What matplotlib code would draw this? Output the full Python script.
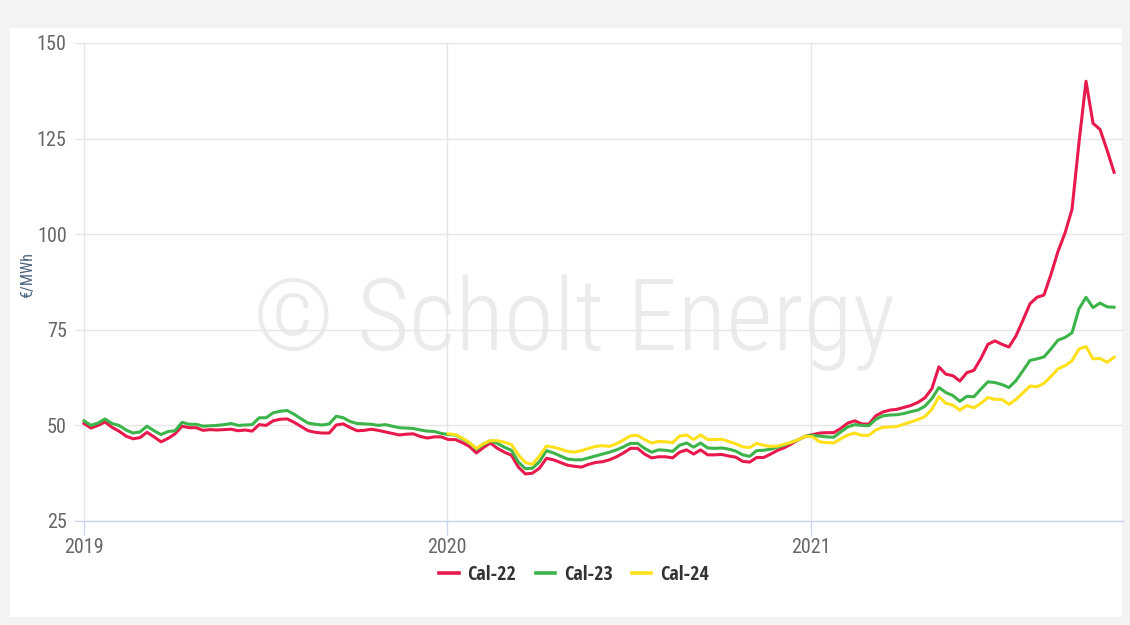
import matplotlib
matplotlib.use("Agg")
import matplotlib.pyplot as plt
from matplotlib import font_manager
from matplotlib.patches import Rectangle
from matplotlib.lines import Line2D
import pandas as pd

# ---- data (€/MWh, roughly weekly) ----
start_date = "2019-01-01"
end_date = "2021-11-02"

cal22 = [
    50.5, 49.3, 50.0, 50.9, 49.5, 48.5, 47.2, 46.5, 46.8, 48.2,
    47.0, 45.7, 46.6, 47.8, 49.8, 49.4, 49.4, 48.7, 48.9, 48.8,
    48.9, 49.0, 48.6, 48.8, 48.5, 50.2, 50.0, 51.2, 51.6, 51.7,
    50.8, 49.7, 48.6, 48.2, 48.0, 48.0, 50.1, 50.4, 49.4, 48.6,
    48.7, 49.0, 48.7, 48.3, 47.9, 47.5, 47.7, 47.8, 47.1, 46.7,
    47.0, 47.0, 46.3, 46.3, 45.5, 44.5, 42.8, 44.2, 45.4, 44.0,
    43.0, 42.2, 39.1, 37.3, 37.5, 38.8, 41.4, 41.0, 40.3, 39.6,
    39.3, 39.1, 39.8, 40.3, 40.5, 41.0, 41.8, 42.8, 44.0, 44.0,
    42.5, 41.5, 41.8, 41.8, 41.5, 43.0, 43.6, 42.5, 43.6, 42.3,
    42.3, 42.4, 42.0, 41.7, 40.6, 40.4, 41.6, 41.6, 42.5, 43.5,
    44.2, 45.2, 46.3, 47.2, 47.6, 48.0, 48.1, 48.1, 49.2, 50.6,
    51.2, 50.4, 50.3, 52.5, 53.5, 54.0, 54.2, 54.7, 55.2, 56.0,
    57.2, 59.6, 65.3, 63.4, 63.0, 61.6, 63.8, 64.4, 67.5, 71.2,
    72.1, 71.2, 70.5, 73.4, 77.5, 81.8, 83.5, 84.1, 89.5, 95.5,
    100.3, 106.5, 124.0, 140.0, 129.0, 127.4, 122.0, 116.2,
]

cal23 = [
    51.2, 50.0, 50.6, 51.7, 50.5, 50.0, 48.8, 48.0, 48.3, 49.8,
    48.6, 47.6, 48.4, 48.6, 50.8, 50.3, 50.3, 49.8, 49.9, 50.0,
    50.2, 50.5, 50.0, 50.1, 50.2, 52.0, 52.0, 53.3, 53.7, 53.9,
    52.9, 51.7, 50.6, 50.3, 50.1, 50.4, 52.4, 52.0, 51.0, 50.5,
    50.4, 50.3, 50.0, 50.2, 49.8, 49.4, 49.3, 49.2, 48.8, 48.5,
    48.4, 47.9, 47.6, 47.5, 46.5, 45.4, 43.8, 45.0, 46.0, 45.3,
    44.3, 43.5, 40.4, 38.7, 38.8, 40.5, 43.4, 42.8, 42.0, 41.2,
    41.0, 41.0, 41.5, 42.0, 42.5, 43.0, 43.6, 44.4, 45.3, 45.3,
    44.0, 43.0, 43.6, 43.5, 43.2, 44.8, 45.4, 44.3, 45.4, 44.1,
    44.0, 44.1, 43.8, 43.3, 42.3, 41.9, 43.4, 43.5, 43.8, 44.3,
    44.9, 45.6, 46.3, 47.2, 47.4, 47.2, 47.0, 46.9, 48.3, 49.6,
    50.2, 50.0, 49.9, 51.6, 52.5, 52.7, 52.8, 53.1, 53.6, 54.0,
    55.0, 57.0, 59.9, 58.6, 57.8, 56.3, 57.6, 57.5, 59.5, 61.4,
    61.2, 60.7, 59.9, 61.7, 64.3, 67.0, 67.4, 67.9, 70.0, 72.3,
    73.0, 74.2, 80.5, 83.5, 80.8, 82.0, 81.0, 80.9,
]

cal24 = [
    47.8, 47.6, 46.7, 45.5, 44.0, 45.2, 46.0, 46.0, 45.6, 45.0,
    42.3, 40.3, 39.8, 42.0, 44.6, 44.3, 43.8, 43.2, 43.0, 43.4,
    44.0, 44.5, 44.7, 44.5, 45.2, 46.2, 47.3, 47.4, 46.3, 45.4,
    45.8, 45.7, 45.5, 47.2, 47.5, 46.3, 47.5, 46.3, 46.3, 46.4,
    45.8, 45.2, 44.4, 44.2, 45.3, 44.8, 44.5, 44.6, 45.1, 45.6,
    46.3, 47.2, 47.0, 45.7, 45.5, 45.4, 46.5, 47.5, 48.0, 47.4,
    47.4, 48.8, 49.5, 49.6, 49.7, 50.3, 50.9, 51.5, 52.3, 54.2,
    57.5, 55.8, 55.3, 54.0, 55.2, 54.6, 55.8, 57.3, 56.8, 56.8,
    55.5, 56.8, 58.5, 60.3, 60.1, 61.0, 62.8, 64.8, 65.6, 66.9,
    70.0, 70.6, 67.4, 67.5, 66.5, 67.8,
]

series_names = ["Cal-22", "Cal-23", "Cal-24"]
series_colors = ["#e8194d", "#3cb44a", "#ffe01a"]
y_ticks = [25, 50, 75, 100, 125, 150]
x_tick_years = ["2019", "2020", "2021"]
y_label = "€/MWh"
watermark = "© Scholt Energy"

# ---- fonts ----
available = {f.name for f in font_manager.fontManager.ttflist}


def pick(prefs):
    return next((f for f in prefs if f in available), "DejaVu Sans")


reg_font = pick(["Roboto Condensed", "Fira Sans Condensed", "PT Sans Narrow",
                 "Liberation Sans Narrow", "Liberation Sans"])
bold_font = pick(["Open Sans Condensed", "Roboto Condensed", "Liberation Sans"])
reg_fam = [reg_font, "DejaVu Sans"]
bold_fam = [bold_font, "DejaVu Sans"]
plt.rcParams["font.family"] = reg_fam

dates = pd.date_range(start_date, end_date, periods=len(cal22))

W, H = 1130, 625
fig = plt.figure(figsize=(W / 100, H / 100), dpi=100, facecolor="#f3f3f3")
panel = Rectangle((10 / W, 1 - 617 / H), (1122 - 10) / W, (617 - 28) / H,
                  transform=fig.transFigure, facecolor="white",
                  edgecolor="none", zorder=-5)
fig.patches.append(panel)

ax = fig.add_axes([75 / W, 1 - 521 / H, (1123 - 75) / W, (521 - 43) / H])
ax.set_facecolor("none")
ax.set_zorder(2)

# watermark (behind the axes content)
fig.text(574 / W, 1 - 350 / H, watermark, ha="center", va="baseline",
         fontsize=73, fontweight="light", color="#ebebeb", zorder=1,
         family=reg_fam)

all_series = [cal22, cal23, cal24]
for name, vals, col in zip(series_names, all_series, series_colors):
    ax.plot(dates[-len(vals):], vals, color=col, lw=2.2, label=name,
            solid_joinstyle="round", zorder=3)

ax.set_ylim(y_ticks[0], y_ticks[-1])
ax.set_yticks(y_ticks)
ax.set_xlim(pd.Timestamp(start_date) - pd.Timedelta(days=9),
            pd.Timestamp("2021-11-11"))
ax.set_xticks([pd.Timestamp(y + "-01-01") for y in x_tick_years])
ax.set_xticklabels(x_tick_years)

ax.grid(True, color="#e6e6e6", lw=1)
ax.set_axisbelow(True)
for s in ["top", "right", "left"]:
    ax.spines[s].set_visible(False)
ax.spines["bottom"].set_color("#ccd6eb")
ax.spines["bottom"].set_linewidth(1)

ax.tick_params(axis="y", length=0, pad=6, labelsize=14.5, labelcolor="#666666")
ax.tick_params(axis="x", length=10, width=1, color="#ccd6eb", pad=2,
               labelsize=14.5, labelcolor="#666666")

fig.text(28 / W, 1 - 275 / H, y_label, rotation=90, ha="center", va="center",
         fontsize=11.5, color="#4a6580")

handles = [Line2D([0], [0], color=c, lw=2.6) for c in series_colors]
leg = fig.legend(handles, series_names, loc="center", bbox_to_anchor=(574 / W, 1 - 575 / H),
                 ncol=3, frameon=False, handlelength=0.95, handletextpad=0.45,
                 columnspacing=0.95, prop={"family": bold_fam,
                                           "weight": "bold", "size": 14.5})
for t in leg.get_texts():
    t.set_color("#333333")

fig.savefig("out.png", dpi=100, facecolor=fig.get_facecolor())
